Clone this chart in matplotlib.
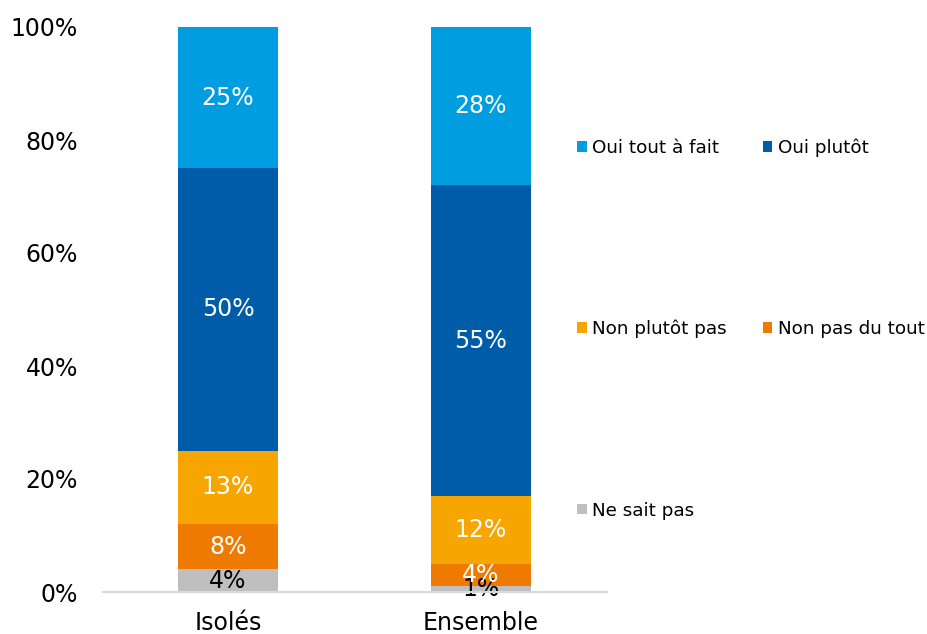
import matplotlib
matplotlib.use('Agg')
import matplotlib.pyplot as plt
import numpy as np

# Data
categories = ['Isolés', 'Ensemble']
ne_sait_pas = [4, 1]
non_pas_du_tout = [8, 4]
non_plutot_pas = [13, 12]
oui_plutot = [50, 55]
oui_tout_a_fait = [25, 28]

series = [
    ('Ne sait pas', ne_sait_pas, '#BFBFBF', 'black'),
    ('Non pas du tout', non_pas_du_tout, '#EE7B00', 'white'),
    ('Non plutôt pas', non_plutot_pas, '#F7A500', 'white'),
    ('Oui plutôt', oui_plutot, '#005CA9', 'white'),
    ('Oui tout à fait', oui_tout_a_fait, '#009EE0', 'white'),
]

plt.rcParams['font.family'] = ['DejaVu Sans']

fig = plt.figure(figsize=(9.28, 6.34), dpi=100)
ax = fig.add_axes([103 / 928, 1 - 592 / 634, 504 / 928, 565 / 634])

x = np.arange(len(categories))
bottom = np.zeros(len(categories))
handles = {}
for name, vals, color, tcolor in series:
    bars = ax.bar(x, vals, width=0.395, bottom=bottom, color=color, label=name, zorder=2)
    ax.bar_label(bars, labels=[f'{v}%' for v in vals], label_type='center',
                 color=tcolor, fontsize=17)
    handles[name] = bars
    bottom += np.array(vals)

ax.set_xlim(-0.494, 1.498)
ax.set_ylim(0, 100)
ax.set_yticks(range(0, 101, 20))
ax.set_yticklabels([f'{t}%' for t in range(0, 101, 20)])
ax.set_xticks(x)
ax.set_xticklabels(categories)
ax.tick_params(axis='y', length=0, pad=18, labelsize=17)
ax.tick_params(axis='x', length=0, pad=14, labelsize=17)

for side in ['top', 'right', 'left']:
    ax.spines[side].set_visible(False)
ax.spines['bottom'].set_color('#D9D9D9')
ax.spines['bottom'].set_linewidth(1.5)
ax.spines['bottom'].set_zorder(3)

# legend laid out row-wise: order handles so column fill gives the right rows
order = ['Oui tout à fait', 'Non plutôt pas', 'Ne sait pas', 'Oui plutôt', 'Non pas du tout']
fig.legend([handles[n] for n in order], order, ncol=2, frameon=False,
           loc='upper left', bbox_to_anchor=(568 / 928, 1 - 129 / 634),
           fontsize=13.2, handlelength=0.53, handleheight=0.53, handletextpad=0.3,
           labelspacing=8.9, columnspacing=1.95, borderpad=0)

fig.savefig('out.png', dpi=100)
